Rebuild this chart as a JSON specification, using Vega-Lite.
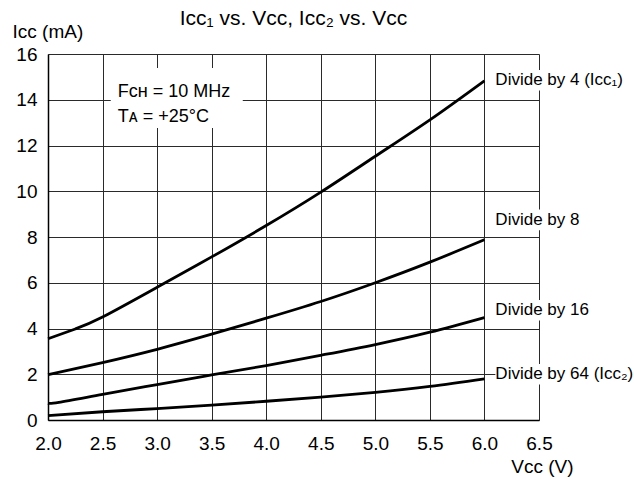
{
  "$schema": "https://vega.github.io/schema/vega-lite/v6.json",
  "width": 491,
  "height": 366,
  "autosize": {"type": "none"},
  "padding": {"left": 48, "top": 54, "right": 95, "bottom": 65},
  "background": "white",
  "config": {
    "font": "Liberation Sans",
    "view": {"stroke": null},
    "axis": {"labelFont": "Liberation Sans", "titleFont": "Liberation Sans"}
  },
  "title": {
    "text": "Iᴄᴄ₁ vs. Vᴄᴄ, Iᴄᴄ₂ vs. Vᴄᴄ",
    "font": "Liberation Sans",
    "fontSize": 21,
    "fontWeight": "normal",
    "color": "black",
    "anchor": "middle",
    "frame": "group",
    "offset": 6,
    "dy": 13
  },
  "datasets": {
    "curves": [
      {"series": "Divide by 4", "v": 2.0, "i": 3.55},
      {"series": "Divide by 4", "v": 2.25, "i": 3.98},
      {"series": "Divide by 4", "v": 2.5, "i": 4.5},
      {"series": "Divide by 4", "v": 3.0, "i": 5.8},
      {"series": "Divide by 4", "v": 3.5, "i": 7.13},
      {"series": "Divide by 4", "v": 4.0, "i": 8.5},
      {"series": "Divide by 4", "v": 4.5, "i": 9.96},
      {"series": "Divide by 4", "v": 5.0, "i": 11.53},
      {"series": "Divide by 4", "v": 5.5, "i": 13.12},
      {"series": "Divide by 4", "v": 6.0, "i": 14.83},
      {"series": "Divide by 8", "v": 2.0, "i": 1.98},
      {"series": "Divide by 8", "v": 2.5, "i": 2.51},
      {"series": "Divide by 8", "v": 3.0, "i": 3.09},
      {"series": "Divide by 8", "v": 3.5, "i": 3.75},
      {"series": "Divide by 8", "v": 4.0, "i": 4.45},
      {"series": "Divide by 8", "v": 4.5, "i": 5.18},
      {"series": "Divide by 8", "v": 5.0, "i": 6.0},
      {"series": "Divide by 8", "v": 5.5, "i": 6.9},
      {"series": "Divide by 8", "v": 6.0, "i": 7.88},
      {"series": "Divide by 16", "v": 2.0, "i": 0.73},
      {"series": "Divide by 16", "v": 2.1, "i": 0.77},
      {"series": "Divide by 16", "v": 2.5, "i": 1.12},
      {"series": "Divide by 16", "v": 3.0, "i": 1.55},
      {"series": "Divide by 16", "v": 3.5, "i": 1.97},
      {"series": "Divide by 16", "v": 4.0, "i": 2.38},
      {"series": "Divide by 16", "v": 4.5, "i": 2.83},
      {"series": "Divide by 16", "v": 5.0, "i": 3.3},
      {"series": "Divide by 16", "v": 5.5, "i": 3.84},
      {"series": "Divide by 16", "v": 6.0, "i": 4.48},
      {"series": "Divide by 64", "v": 2.0, "i": 0.19},
      {"series": "Divide by 64", "v": 2.5, "i": 0.36},
      {"series": "Divide by 64", "v": 3.0, "i": 0.5},
      {"series": "Divide by 64", "v": 3.5, "i": 0.65},
      {"series": "Divide by 64", "v": 4.0, "i": 0.82},
      {"series": "Divide by 64", "v": 4.5, "i": 1.0},
      {"series": "Divide by 64", "v": 5.0, "i": 1.21},
      {"series": "Divide by 64", "v": 5.5, "i": 1.47},
      {"series": "Divide by 64", "v": 6.0, "i": 1.8}
    ],
    "labels": [
      {"text": "Divide by 4 (Iᴄᴄ₁)", "v": 6.1, "i": 14.85},
      {"text": "Divide by 8", "v": 6.1, "i": 8.75},
      {"text": "Divide by 16", "v": 6.1, "i": 4.8},
      {"text": "Divide by 64 (Iᴄᴄ₂)", "v": 6.1, "i": 2.0}
    ],
    "notes": [
      {"text": "Fᴄʜ = 10 MHz", "v": 2.64, "i": 14.12},
      {"text": "Tᴀ = +25°C", "v": 2.64, "i": 13.03}
    ],
    "boxes": [
      {"v": 2.575, "v2": 3.785, "i": 12.77, "i2": 15.39},
      {"v": 6.1, "v2": 6.65, "i": 14.4, "i2": 15.3},
      {"v": 6.1, "v2": 6.65, "i": 8.3, "i2": 9.2},
      {"v": 6.1, "v2": 6.65, "i": 4.35, "i2": 5.25},
      {"v": 6.1, "v2": 6.65, "i": 1.55, "i2": 2.45}
    ]
  },
  "layer": [
    {
      "data": {"name": "boxes"},
      "mark": {"type": "rect", "fill": "white", "stroke": null},
      "encoding": {
        "x": {
          "field": "v", "type": "quantitative",
          "scale": {"domain": [2, 6.5], "nice": false, "zero": false},
          "axis": {
            "values": [2.0, 2.5, 3.0, 3.5, 4.0, 4.5, 5.0, 5.5, 6.0, 6.5],
            "format": ".1f",
            "grid": true, "gridColor": "#2a2a2a", "gridWidth": 1, "gridOpacity": 1,
            "domain": true, "domainColor": "black", "domainWidth": 1.5,
            "ticks": false,
            "labelFontSize": 19, "labelColor": "black", "labelPadding": 14,
            "labelFlush": false,
            "title": "Vᴄᴄ (V)",
            "titleFontSize": 19, "titleFontWeight": "normal", "titleColor": "black",
            "titleAlign": "right", "titleAnchor": null,
            "titleX": 525, "titleY": 52, "titleBaseline": "alphabetic"
          }
        },
        "x2": {"field": "v2"},
        "y": {
          "field": "i", "type": "quantitative",
          "scale": {"domain": [0, 16], "nice": false},
          "axis": {
            "values": [0, 2, 4, 6, 8, 10, 12, 14, 16],
            "grid": true, "gridColor": "#2a2a2a", "gridWidth": 1, "gridOpacity": 1,
            "domain": true, "domainColor": "black", "domainWidth": 1.5,
            "ticks": false,
            "labelFontSize": 19, "labelColor": "black", "labelPadding": 11,
            "labelFlush": false,
            "title": "Iᴄᴄ (mA)",
            "titleFontSize": 19, "titleFontWeight": "normal", "titleColor": "black",
            "titleAngle": 0, "titleAlign": "left", "titleAnchor": null,
            "titleX": -36, "titleY": -17, "titleBaseline": "alphabetic"
          }
        },
        "y2": {"field": "i2"}
      }
    },
    {
      "data": {"name": "curves"},
      "mark": {"type": "line", "interpolate": "natural", "color": "black", "strokeWidth": 2.8},
      "encoding": {
        "x": {"field": "v", "type": "quantitative"},
        "y": {"field": "i", "type": "quantitative"},
        "detail": {"field": "series"}
      }
    },
    {
      "data": {"name": "labels"},
      "mark": {"type": "text", "align": "left", "baseline": "middle", "fontSize": 17, "color": "black", "font": "Liberation Sans"},
      "encoding": {
        "x": {"field": "v", "type": "quantitative"},
        "y": {"field": "i", "type": "quantitative"},
        "text": {"field": "text"}
      }
    },
    {
      "data": {"name": "notes"},
      "mark": {"type": "text", "align": "left", "baseline": "alphabetic", "fontSize": 18, "color": "black", "font": "Liberation Sans"},
      "encoding": {
        "x": {"field": "v", "type": "quantitative"},
        "y": {"field": "i", "type": "quantitative"},
        "text": {"field": "text"}
      }
    }
  ]
}
